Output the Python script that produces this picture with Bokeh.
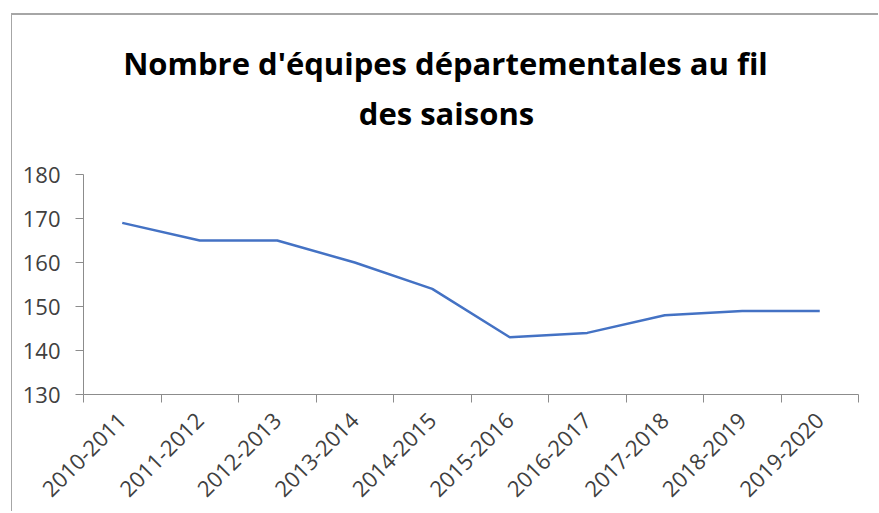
from math import pi
from bokeh.plotting import figure
from bokeh.models import FixedTicker, Range1d, Label
from bokeh.embed import file_html
from bokeh.resources import INLINE

seasons = ["2010-2011", "2011-2012", "2012-2013", "2013-2014", "2014-2015",
           "2015-2016", "2016-2017", "2017-2018", "2018-2019", "2019-2020"]
teams = [169, 165, 165, 160, 154, 143, 144, 148, 149, 149]
y_ticks = [130, 140, 150, 160, 170, 180]
title_lines = ["Nombre d'équipes départementales  au fil", "des saisons"]

n = len(seasons)
xs = [i + 0.5 for i in range(n)]

ML, MT = 11, 13          # outer margin of the chart-area border
TOP_PAD = 20             # space above the frame
frame_top, frame_bottom = MT + 2 + TOP_PAD, 394
axis_top = 174           # pixel row of the highest y tick
span = y_ticks[-1] - y_ticks[0]
px_per_unit = (frame_bottom - axis_top) / span
y_end = y_ticks[0] + (frame_bottom - frame_top) / px_per_unit

p = figure(width=879 - ML - 1, height=513 - MT - 2, output_backend="svg",
           toolbar_location=None,
           x_range=Range1d(0, n), y_range=Range1d(y_ticks[0], y_end),
           min_border_left=83 - ML - 1, min_border_right=21, min_border_top=TOP_PAD,
           min_border_bottom=119, background_fill_color="white",
           border_fill_color="white")
p.margin = (MT, 0, 0, ML)
p.styles = {"border-top": "2px solid #a6a6a6", "border-left": "1px solid #a6a6a6"}
p.outline_line_color = None
p.xgrid.visible = False
p.ygrid.visible = False
p.title.text = ""
p.title.text_font_size = "0px"
p.title.standoff = 0

p.line(xs, teams, line_color="#4472C4", line_width=2.5)

axis_color = "#8c8c8c"
label_color = "#404040"
font = "Open Sans"

xa = p.xaxis[0]
xa.ticker = FixedTicker(ticks=xs, minor_ticks=list(range(n + 1)))
xa.major_label_overrides = {x: s for x, s in zip(xs, seasons)}
xa.major_label_orientation = pi / 4
xa.major_tick_in = 0
xa.major_tick_out = 0
xa.minor_tick_in = 0
xa.minor_tick_out = 8
xa.minor_tick_line_color = axis_color
xa.axis_line_color = axis_color
xa.major_label_text_font = font
xa.major_label_text_font_size = "22px"
xa.major_label_text_color = label_color
xa.major_label_standoff = 14

ya = p.yaxis[0]
ya.ticker = FixedTicker(ticks=y_ticks, minor_ticks=[])
ya.bounds = (y_ticks[0], y_ticks[-1])
ya.major_tick_in = 0
ya.major_tick_out = 8
ya.major_tick_line_color = axis_color
ya.axis_line_color = axis_color
ya.major_label_text_font = font
ya.major_label_text_font_size = "22px"
ya.major_label_text_color = label_color
ya.major_label_standoff = 15

# title lines; screen units: x from frame left, y up from frame bottom
for txt, (sx, sy) in zip(title_lines, [(366, 332), (363, 282)]):
    p.add_layout(Label(x=sx, y=sy, x_units="screen", y_units="screen", text=txt,
                       text_align="center", text_baseline="alphabetic",
                       text_font="Open Sans", text_font_size="31px",
                       text_font_style="bold", text_color="#000000"))

open("out.html", "w").write(file_html(p, INLINE))
